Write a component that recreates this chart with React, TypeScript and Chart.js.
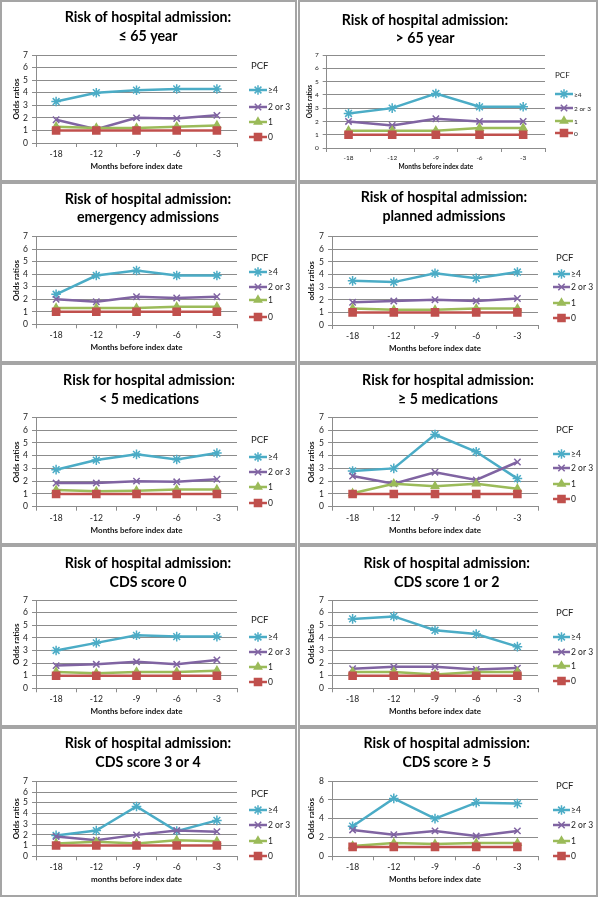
import React, { useEffect, useRef } from "react";
import { Chart, registerables } from "chart.js";
import { drawPoint } from "chart.js/helpers";

Chart.register(...registerables);

// ---------- data ----------
const months = ["-18", "-12", "-9", "-6", "-3"];
const seriesLabels = ["0", "1", "2 or 3", "≥4"];
const pcfTitle = "PCF";
const baseline0 = [1, 1, 1, 1, 1];

const ageUpTo65_pcf1 = [1.3, 1.2, 1.2, 1.3, 1.4];
const ageUpTo65_pcf23 = [1.85, 1.1, 2.0, 1.95, 2.2];
const ageUpTo65_pcf4 = [3.3, 4.0, 4.2, 4.3, 4.3];

const ageOver65_pcf1 = [1.3, 1.3, 1.3, 1.5, 1.5];
const ageOver65_pcf23 = [2.0, 1.7, 2.2, 2.0, 2.0];
const ageOver65_pcf4 = [2.6, 3.0, 4.1, 3.1, 3.1];

const emergency_pcf1 = [1.3, 1.3, 1.3, 1.4, 1.4];
const emergency_pcf23 = [2.0, 1.8, 2.2, 2.1, 2.2];
const emergency_pcf4 = [2.4, 3.9, 4.3, 3.9, 3.9];

const planned_pcf1 = [1.3, 1.2, 1.2, 1.3, 1.3];
const planned_pcf23 = [1.8, 1.9, 2.0, 1.9, 2.1];
const planned_pcf4 = [3.5, 3.4, 4.1, 3.7, 4.2];

const medsUnder5_pcf1 = [1.3, 1.2, 1.25, 1.35, 1.35];
const medsUnder5_pcf23 = [1.85, 1.85, 2.0, 1.95, 2.15];
const medsUnder5_pcf4 = [2.9, 3.65, 4.1, 3.7, 4.2];

const meds5plus_pcf1 = [1.05, 1.8, 1.6, 1.8, 1.4];
const meds5plus_pcf23 = [2.4, 1.8, 2.7, 2.1, 3.5];
const meds5plus_pcf4 = [2.8, 3.0, 5.65, 4.3, 2.2];

const cds0_pcf1 = [1.3, 1.2, 1.3, 1.3, 1.4];
const cds0_pcf23 = [1.8, 1.9, 2.1, 1.9, 2.25];
const cds0_pcf4 = [3.0, 3.6, 4.2, 4.1, 4.1];

const cds12_pcf1 = [1.3, 1.3, 1.1, 1.3, 1.3];
const cds12_pcf23 = [1.55, 1.7, 1.7, 1.5, 1.6];
const cds12_pcf4 = [5.5, 5.7, 4.6, 4.3, 3.3];

const cds34_pcf1 = [1.2, 1.35, 1.2, 1.5, 1.4];
const cds34_pcf23 = [1.85, 1.5, 2.0, 2.4, 2.3];
const cds34_pcf4 = [1.95, 2.4, 4.65, 2.35, 3.35];

const cds5plus_pcf1 = [1.1, 1.4, 1.3, 1.4, 1.4];
const cds5plus_pcf23 = [2.8, 2.3, 2.7, 2.15, 2.7];
const cds5plus_pcf4 = [3.2, 6.15, 4.0, 5.7, 5.6];

const titleLines = [
  ["Risk of hospital admission:", "≤ 65 year"],
  ["Risk of hospital admission:", "> 65 year"],
  ["Risk of hospital admission:", "emergency admissions"],
  ["Risk of hospital admission:", "planned admissions"],
  ["Risk for hospital admission:", "< 5 medications"],
  ["Risk for hospital admission:", "≥ 5 medications"],
  ["Risk of hospital admission:", "CDS score 0"],
  ["Risk of hospital admission:", "CDS score 1 or 2"],
  ["Risk of hospital admission:", "CDS score 3 or 4"],
  ["Risk of hospital admission:", "CDS score ≥ 5"],
];
const yTitles = [
  "Odds ratios", "Odds ratios", "Odds ratios", "odds ratios", "Odds ratios",
  "Odds ratios", "Odds ratios", "Odds Ratio", "Odds ratios", "Odds ratios",
];
const xTitles = [
  "Months before index date", "Months before index date", "Months before index date",
  "Months before index date", "Months before index date", "Months before index date",
  "Months before index date", "Months before index date", "months before index date",
  "Months before index date",
];
const yMaxes = [7, 7, 7, 7, 7, 7, 7, 7, 7, 8];
const ySteps = [1, 1, 1, 1, 1, 1, 1, 1, 1, 2];

const panelSeries = [
  [baseline0, ageUpTo65_pcf1, ageUpTo65_pcf23, ageUpTo65_pcf4],
  [baseline0, ageOver65_pcf1, ageOver65_pcf23, ageOver65_pcf4],
  [baseline0, emergency_pcf1, emergency_pcf23, emergency_pcf4],
  [baseline0, planned_pcf1, planned_pcf23, planned_pcf4],
  [baseline0, medsUnder5_pcf1, medsUnder5_pcf23, medsUnder5_pcf4],
  [baseline0, meds5plus_pcf1, meds5plus_pcf23, meds5plus_pcf4],
  [baseline0, cds0_pcf1, cds0_pcf23, cds0_pcf4],
  [baseline0, cds12_pcf1, cds12_pcf23, cds12_pcf4],
  [baseline0, cds34_pcf1, cds34_pcf23, cds34_pcf4],
  [baseline0, cds5plus_pcf1, cds5plus_pcf23, cds5plus_pcf4],
];

// ---------- styles / layout ----------
const COLORS = ["#C0504D", "#9BBB59", "#8064A2", "#4BACC6"];
const STYLES = ["rect", "triangle", "crossRot", "star"];
const RADII = [5, 4.2, 4.5, 4.8];
const GRID = "#8c8c8c";
const FONT = "Lato, 'DejaVu Sans', sans-serif";

type Layout = {
  x: number; y: number; w: number; h: number;
  axisX: number; plotRight: number; top: number; bottom: number;
  titleX: number; t1: number; t2: number;
  pcfX: number; pcfY: number; lx1: number; lx2: number; textX: number;
  items: number[]; yTitleX: number; small?: boolean;
};

const LEFT = { x: 0, w: 297, axisX: 36, plotRight: 237, titleX: 148, pcfX: 251, lx1: 249, lx2: 267, textX: 268, yTitleX: 16 };
const RIGHT = { x: 298, w: 300, axisX: 34, plotRight: 240, titleX: 148, pcfX: 258, lx1: 255, lx2: 272, textX: 273, yTitleX: 13 };

const layouts: Layout[] = [
  { ...LEFT, y: 0, h: 182, top: 55, bottom: 143, t1: 17.3, t2: 36, pcfY: 66, items: [137, 122, 107, 90] },
  { ...RIGHT, y: 0, h: 182, axisX: 28.7, plotRight: 247, top: 55, bottom: 148, titleX: 127, t1: 20, t2: 38, pcfX: 257, pcfY: 75, lx1: 257, lx2: 275, textX: 276, items: [133, 121, 108, 94], yTitleX: 12, small: true },
  { ...LEFT, y: 182, h: 181, top: 54.7, bottom: 142.3, t1: 17, t2: 35.7, pcfY: 76, items: [135, 118, 105, 90] },
  { ...RIGHT, y: 182, h: 181, top: 54.7, bottom: 143, titleX: 146, t1: 15, t2: 34.7, pcfY: 76, items: [136, 121, 105, 92] },
  { ...LEFT, y: 363, h: 182, top: 54.3, bottom: 143.7, titleX: 149, t1: 17.7, t2: 36.3, pcfY: 77, items: [140, 124, 109, 94] },
  { ...RIGHT, y: 363, h: 182, top: 54.3, bottom: 143.7, titleX: 150, t1: 17.7, t2: 36.3, pcfY: 67, items: [136, 121, 105, 91] },
  { ...LEFT, y: 545, h: 182, top: 55, bottom: 143.3, t1: 18.3, t2: 37.3, pcfY: 75, items: [137, 122, 107, 92] },
  { ...RIGHT, y: 545, h: 182, top: 55, bottom: 143.3, titleX: 148.7, t1: 18.3, t2: 37.3, pcfY: 68, items: [136, 121, 107, 92] },
  { ...LEFT, y: 727, h: 170, top: 54.3, bottom: 129.3, t1: 16.7, t2: 35, pcfY: 67, items: [129, 114, 98, 83] },
  { ...RIGHT, y: 727, h: 170, top: 54, bottom: 129.3, titleX: 148.7, t1: 16.7, t2: 35, pcfY: 59, items: [129, 114, 98, 83] },
];

function Panel({ index }: { index: number }) {
  const ref = useRef<HTMLCanvasElement>(null);
  const L = layouts[index];

  useEffect(() => {
    if (!ref.current) return;
    const small = !!L.small;
    const tickSize = small ? 6.5 : 8.5;
    const axisTitleSize = small ? 6.5 : 8;
    const legendSize = small ? 6.5 : 8.5;
    const pcfSize = small ? 8 : 9.5;
    const titles = titleLines[index];

    const decor = {
      id: "panelDecor" + index,
      afterDraw(chart: any) {
        const ctx = chart.ctx as CanvasRenderingContext2D;
        ctx.save();
        ctx.fillStyle = "#000";
        ctx.textAlign = "center";
        ctx.textBaseline = "middle";
        ctx.font = `bold 14.2px ${FONT}`;
        ctx.fillText(titles[0], L.titleX, L.t1);
        ctx.fillText(titles[1], L.titleX, L.t2);

        ctx.textAlign = "left";
        ctx.fillStyle = "#222";
        ctx.font = `${pcfSize}px ${FONT}`;
        ctx.fillText(pcfTitle, L.pcfX, L.pcfY);

        for (let i = 0; i < 4; i++) {
          const y = L.items[i];
          ctx.strokeStyle = COLORS[i];
          ctx.fillStyle = COLORS[i];
          ctx.lineWidth = 2.5;
          ctx.beginPath();
          ctx.moveTo(L.lx1, y);
          ctx.lineTo(L.lx2, y);
          ctx.stroke();
          ctx.lineWidth = 1.5;
          drawPoint(ctx, { pointStyle: STYLES[i], rotation: 0, radius: RADII[i], borderWidth: 1.5 } as any, (L.lx1 + L.lx2) / 2, y);
          ctx.fillStyle = "#222";
          ctx.font = `${legendSize}px ${FONT}`;
          ctx.fillText(seriesLabels[i], L.textX, y + 0.5);
        }
        ctx.restore();
      },
    };

    const series = panelSeries[index];
    const chart = new Chart(ref.current, {
      type: "line",
      data: {
        labels: months,
        datasets: series.map((d, i) => ({
          label: seriesLabels[i],
          data: d,
          borderColor: COLORS[i],
          backgroundColor: COLORS[i],
          pointStyle: STYLES[i] as any,
          pointRadius: RADII[i],
          pointBorderWidth: 1.5,
          pointBackgroundColor: COLORS[i],
          pointBorderColor: COLORS[i],
          borderWidth: 2.5,
          tension: 0,
          fill: false,
        })),
      },
      options: {
        responsive: false,
        animation: false,
        devicePixelRatio: 1,
        layout: { padding: { top: L.top, right: L.w - L.plotRight, bottom: 0, left: 0 } },
        plugins: {
          legend: { display: false },
          title: { display: false },
          tooltip: { enabled: false },
        },
        scales: {
          x: {
            type: "category",
            offset: true,
            grid: { display: true, drawOnChartArea: false, drawTicks: true, tickLength: 4, color: GRID, offset: true },
            border: { display: true, color: GRID, width: 1 },
            ticks: { color: "#222", font: { family: FONT, size: tickSize }, padding: 2, maxRotation: 0, autoSkip: false },
            title: {
              display: true,
              text: xTitles[index],
              color: "#111",
              font: { family: FONT, size: axisTitleSize, weight: "bold" },
              padding: { top: 0, bottom: Math.max(0, L.h - (L.bottom + (small ? 19 : 23.5)) - axisTitleSize * 0.6) },
            },
            afterFit: (s: any) => { s.height = L.h - L.bottom; },
          },
          y: {
            min: 0,
            max: yMaxes[index],
            ticks: { stepSize: ySteps[index], color: "#222", font: { family: FONT, size: tickSize }, padding: 4, autoSkip: false, maxTicksLimit: 20 },
            grid: { color: GRID, tickLength: 4, drawTicks: true, lineWidth: 1 },
            border: { display: true, color: GRID, width: 1 },
            title: {
              display: true,
              text: yTitles[index],
              color: "#111",
              font: { family: FONT, size: axisTitleSize, weight: "bold" },
              padding: { top: Math.max(0, L.yTitleX - axisTitleSize * 0.6), bottom: 0 },
            },
            afterFit: (s: any) => { s.width = L.axisX; },
          },
        },
      } as any,
      plugins: [decor],
    });
    return () => chart.destroy();
  }, []);

  return (
    <div style={{ position: "absolute", left: L.x, top: L.y, width: L.w, height: L.h }}>
      <canvas ref={ref} width={L.w} height={L.h} style={{ display: "block", width: L.w, height: L.h }} />
      <div
        style={{
          position: "absolute", left: 0, top: 0, width: L.w, height: L.h,
          border: "2px solid #a5a5a5", boxSizing: "border-box", pointerEvents: "none",
        }}
      />
    </div>
  );
}

export default function App() {
  return (
    <div style={{ position: "absolute", left: 0, top: 0, width: 600, height: 897, background: "#fff" }}>
      {layouts.map((_, i) => (
        <Panel key={i} index={i} />
      ))}
    </div>
  );
}
